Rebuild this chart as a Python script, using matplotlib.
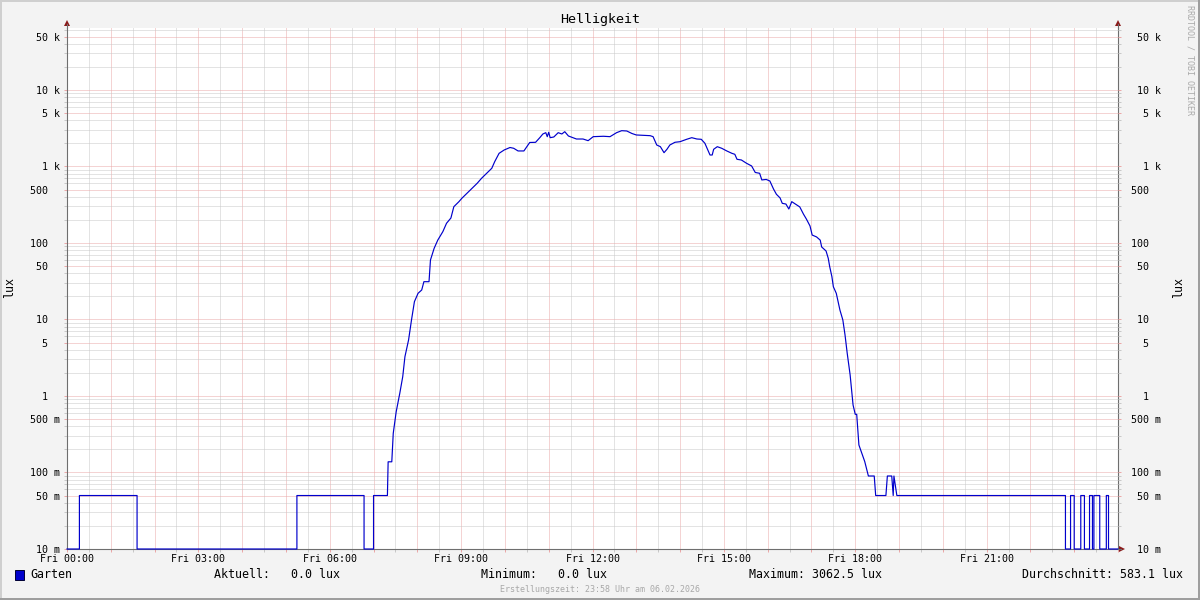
import numpy as np
import matplotlib.pyplot as plt
from matplotlib.ticker import FixedLocator, NullFormatter
from matplotlib.patches import Polygon, Rectangle

# data: minutes since Fri 00:00 and brightness in lux
minutes = [0, 17, 17, 96, 96, 315, 315, 407, 407, 420, 420, 439,
           440, 445, 447, 451, 456, 460, 463, 468, 472, 476, 481, 486, 489, 496,
           498, 503, 508, 515, 520, 526, 530, 537, 541, 548, 555, 562, 568, 575,
           582, 586, 592, 599, 607, 612, 618, 626, 630, 634, 642, 648, 652, 656,
           658, 660, 662, 667, 673, 678, 682, 687, 698, 707, 714, 721, 735, 744,
           753, 760, 767, 774, 780, 799, 803, 808, 813, 818, 822, 826, 833, 840,
           849, 856, 863, 869, 874, 877, 881, 884, 886, 891, 897, 904, 911, 915,
           918, 924, 931, 938, 943, 949, 952, 958, 963, 968, 972, 977, 980, 985,
           989, 993, 1000, 1004, 1009, 1013, 1018, 1021, 1027, 1032, 1034, 1040,
           1043, 1045, 1048, 1050, 1054, 1059, 1063, 1066, 1069, 1073, 1077, 1080,
           1082, 1085, 1089, 1093, 1098, 1106, 1108, 1122, 1124, 1130, 1132, 1133,
           1137, 1368, 1368, 1375, 1375, 1380, 1380, 1389, 1389, 1394, 1394, 1401,
           1401, 1405, 1405, 1407, 1407, 1415, 1415, 1424, 1424, 1427, 1427, 1440]
lux = [0, 0, 0.05, 0.05, 0, 0, 0.05, 0.05, 0, 0, 0.05, 0.05,
       0.138, 0.138, 0.325, 0.62, 1.09, 1.79, 3.26, 5.4, 9.85, 17.1, 22.0, 24.3, 31.2, 31.2,
       60, 85, 109, 141, 181, 212, 298, 347, 384, 446, 519, 603, 701, 815,
       947, 1156, 1486, 1644, 1771, 1730, 1596, 1596, 1815, 2060, 2070, 2393, 2660, 2767,
       2454, 2800, 2380, 2430, 2767, 2660, 2850, 2504, 2287, 2287, 2175, 2454, 2483, 2454,
       2767, 2938, 2910, 2700, 2582, 2528, 2454, 1910, 1815, 1515, 1678, 1910, 2072, 2110,
       2267, 2380, 2287, 2267, 2010, 1730, 1413, 1413, 1678, 1815, 1730, 1596, 1486, 1443,
       1242, 1216, 1102, 1016, 835, 815, 667, 677, 646, 508, 433, 388, 330, 323,
       278, 347, 314, 296, 239, 206, 167, 127, 120, 109, 88.7, 78.6,
       63.1, 49, 36.3, 26.8, 22.0, 13.3, 9.85, 6.27, 3.61, 1.88, 0.763, 0.576,
       0.576, 0.229, 0.178, 0.139, 0.09, 0.09, 0.05, 0.05, 0.09, 0.09, 0.05, 0.09,
       0.05, 0.05, 0, 0, 0.05, 0.05, 0, 0, 0.05, 0.05, 0, 0,
       0.05, 0.05, 0, 0, 0.05, 0.05, 0, 0, 0.05, 0.05, 0, 0]

y_major = [0.01, 0.05, 0.1, 0.5, 1, 5, 10, 50, 100, 500, 1e3, 5e3, 1e4, 5e4]
y_labels = ['10 m', '50 m', '100 m', '500 m', '1  ', '5  ', '10  ', '50  ',
            '100  ', '500  ', '1 k', '5 k', '10 k', '50 k']
x_labels = ['Fri 00:00', 'Fri 03:00', 'Fri 06:00', 'Fri 09:00', 'Fri 12:00',
            'Fri 15:00', 'Fri 18:00', 'Fri 21:00']

legend_items = ['Aktuell:   0.0 lux', 'Minimum:   0.0 lux', 'Maximum: 3062.5 lux']
avg_text = 'Durchschnitt: 583.1 lux'

MONO = 'DejaVu Sans Mono'
YMIN, YMAX = 0.01, 6.46e4
MGRID = '#EBA8A8'
GRID = '#C8C8C8'
AXIS = '#6E6E6E'
ARROW = '#8B1A1A'
LINE = '#0000CC'

fig = plt.figure(figsize=(12, 6), dpi=100, facecolor='#F3F3F3')
ax = fig.add_axes([67/1200, 1-549/600, (1118-67)/1200, (549-28)/600])
ax.set_facecolor('white')

y_minor = [m * 10.0**k for k in range(-2, 5) for m in (2, 3, 4, 6, 7, 8, 9)
           if m * 10.0**k < YMAX]

vals = np.clip(np.array(lux, dtype=float), YMIN, None)
ax.plot(minutes, vals, color=LINE, lw=0.85, zorder=3, clip_on=False)

ax.set_yscale('log')
ax.set_ylim(YMIN, YMAX)
ax.set_xlim(0, 1440)
ax.yaxis.set_major_locator(FixedLocator(y_major))
ax.yaxis.set_minor_locator(FixedLocator(y_minor))
ax.yaxis.set_minor_formatter(NullFormatter())
ax.set_yticks(y_major, y_labels)

xt = list(range(0, 1441, 60))
ax.set_xticks(xt, [x_labels[i // 3] if i % 3 == 0 and i < 24 else '' for i in range(len(xt))])
ax.xaxis.set_minor_locator(FixedLocator(list(range(30, 1440, 60))))

ax.grid(which='major', color=MGRID, linestyle=(0, (1, 1)), linewidth=0.72)
ax.grid(which='minor', color=GRID, linestyle=(0, (1, 1)), linewidth=0.72)
ax.tick_params(which='both', direction='out', length=2.2, width=0.72)
ax.tick_params(which='major', color=MGRID)
ax.tick_params(which='minor', color=GRID)
ax.tick_params(axis='y', which='major', pad=2.8, labelsize=7.2)
ax.tick_params(axis='x', which='major', pad=1.2, labelsize=7.2)
for lab in ax.get_xticklabels() + ax.get_yticklabels():
    lab.set_family(MONO)

for s in ['left', 'right', 'bottom']:
    ax.spines[s].set_color(AXIS)
    ax.spines[s].set_linewidth(0.8)
ax.spines['top'].set_visible(False)

ax2 = ax.twinx()
ax2.set_yscale('log')
ax2.set_ylim(YMIN, YMAX)
ax2.yaxis.set_minor_locator(FixedLocator(y_minor))
ax2.yaxis.set_minor_formatter(NullFormatter())
ax2.set_yticks(y_major, y_labels)
ax2.tick_params(which='both', direction='out', length=2.2, width=0.72)
ax2.tick_params(which='major', color=MGRID, pad=28.8, labelsize=7.2)
ax2.tick_params(which='minor', color=GRID)
for lab in ax2.get_yticklabels():
    lab.set_family(MONO)
    lab.set_horizontalalignment('right')
for s in ax2.spines.values():
    s.set_visible(False)

# overlay in pixel coordinates
ov = fig.add_axes([0, 0, 1, 1])
ov.set_xlim(0, 1200)
ov.set_ylim(600, 0)
ov.axis('off')
ov.patch.set_visible(False)

ov.add_patch(Rectangle((0, 0), 1200, 2, color='#CFCFCF', lw=0))
ov.add_patch(Rectangle((0, 0), 2, 600, color='#CFCFCF', lw=0))
ov.add_patch(Rectangle((0, 598), 1200, 2, color='#9E9E9E', lw=0))
ov.add_patch(Rectangle((1198, 0), 2, 600, color='#9E9E9E', lw=0))

# axis arrows
for x in (67, 1118):
    ov.plot([x, x], [28, 24], color=AXIS, lw=0.8)
    ov.add_patch(Polygon([(x - 3, 26), (x + 3, 26), (x, 20)], color=ARROW, lw=0))
ov.plot([1118, 1121], [549, 549], color=AXIS, lw=0.8)
ov.add_patch(Polygon([(1119, 546), (1119, 552), (1125, 549)], color=ARROW, lw=0))

ov.text(600, 19, 'Helligkeit', ha='center', va='center', fontsize=9.6, family=MONO)
ov.text(10, 288, 'lux', rotation=90, ha='center', va='center', fontsize=8.4, family=MONO)
ov.text(1179, 288, 'lux', rotation=90, ha='center', va='center', fontsize=8.4, family=MONO)
ov.text(1190, 5, 'RRDTOOL / TOBI OETIKER', rotation=270, ha='center', va='top',
        fontsize=6, family=MONO, color='#AAAAAA')

ov.add_patch(Rectangle((15, 570), 9, 10, facecolor=LINE, edgecolor='#000033', lw=0.7))
ov.text(30, 575, 'Garten', ha='left', va='center', fontsize=8.4, family=MONO)
for xpos, txt in zip([214, 481, 749], legend_items):
    ov.text(xpos, 575, txt, ha='left', va='center', fontsize=8.4, family=MONO)
ov.text(1183, 575, avg_text, ha='right', va='center', fontsize=8.4, family=MONO)
ov.text(600, 589, 'Erstellungszeit: 23:58 Uhr am 06.02.2026', ha='center', va='center',
        fontsize=6, family=MONO, color='#A8A8A8')

plt.savefig('out.png', dpi=100, facecolor=fig.get_facecolor())
